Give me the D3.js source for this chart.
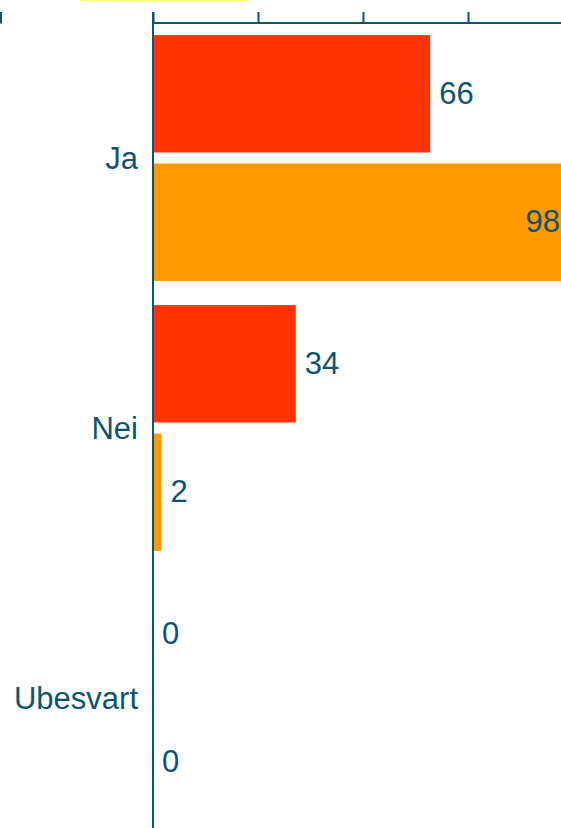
<!DOCTYPE html>
<html>
<head>
<meta charset="utf-8">
<script src="https://cdn.jsdelivr.net/npm/d3@7"></script>
<style>
body { margin: 0; background: #fff; }
text { font-family: "Liberation Sans", Arial, Helvetica, sans-serif; }
</style>
</head>
<body>
<div id="chart"></div>
<script>
var W = 561, H = 828;

var categories = ["Ja", "Nei", "Ubesvart"];
var seriesNames = ["A", "B"];
var seriesA = [66, 34, 0];
var seriesB = [98, 2, 0];
var xTicks = [0, 25, 50, 75, 100];

var red = "#ff3300";
var orange = "#ff9900";
var ink = "#0c5470";

var rows = categories.map((c, i) => ({ cat: c, values: [seriesA[i], seriesB[i]] }));

var svg = d3.select("#chart").append("svg")
	.attr("width", W)
	.attr("height", H);

// stray bits visible at the edges of the crop
svg.append("rect")
	.attr("x", 80).attr("y", 0)
	.attr("width", 169).attr("height", 1.5)
	.attr("fill", "#fffa6e");
svg.append("path")
	.attr("d", "M1,12V23M0,22.5H2")
	.attr("stroke", ink).attr("stroke-width", 2).attr("fill", "none");

var x = d3.scaleLinear().domain([0, 100]).range([153, 573]);
var y = d3.scaleBand().domain(categories).range([23, 833]);
var yInner = d3.scaleBand().domain(seriesNames).range([0, y.bandwidth()])
	.paddingInner(0.086).paddingOuter(0.094);
var colors = [red, orange];

var g = svg.append("g");

var rowG = g.selectAll("g.row")
	.data(rows)
	.enter()
	.append("g")
	.attr("class", "row")
	.attr("transform", d => "translate(0," + y(d.cat) + ")");

rowG.selectAll("rect")
	.data(d => d.values)
	.enter()
	.append("rect")
	.attr("x", x(0))
	.attr("y", (d, i) => yInner(seriesNames[i]))
	.attr("width", d => x(d) - x(0))
	.attr("height", yInner.bandwidth())
	.attr("fill", (d, i) => colors[i]);

rowG.selectAll("text.val")
	.data(d => d.values)
	.enter()
	.append("text")
	.attr("class", "val")
	.attr("y", (d, i) => yInner(seriesNames[i]) + yInner.bandwidth() / 2)
	.attr("dy", "0.33em")
	.style("font-size", "31px")
	.attr("fill", ink)
	.text(d => d)
	.each(function(d) {
		var t = d3.select(this);
		var w = this.getComputedTextLength();
		var px = x(d) + 9;
		if(px + w > W) {
			// no room outside the bar: keep it inside, against the edge
			t.attr("x", W - 1).attr("text-anchor", "end");
		} else {
			t.attr("x", px).attr("text-anchor", "start");
		}
	});

// category labels
g.selectAll("text.cat")
	.data(categories)
	.enter()
	.append("text")
	.attr("class", "cat")
	.attr("x", 138)
	.attr("y", d => y(d) + y.bandwidth() / 2)
	.attr("dy", "0.35em")
	.attr("text-anchor", "end")
	.style("font-size", "31px")
	.attr("fill", ink)
	.text(d => d);

// axes
var xAxis = d3.axisTop(x).tickValues(xTicks).tickSize(11).tickFormat("");
var ax = svg.append("g")
	.attr("transform", "translate(0,23)")
	.call(xAxis);
ax.select(".domain").attr("stroke", ink).attr("stroke-width", 2).attr("d", "M" + x(0) + ",0H" + W);
ax.selectAll(".tick line").attr("stroke", ink).attr("stroke-width", 2);

svg.append("line")
	.attr("x1", x(0)).attr("x2", x(0))
	.attr("y1", 12).attr("y2", H)
	.attr("stroke", ink).attr("stroke-width", 2);
</script>
</body>
</html>
